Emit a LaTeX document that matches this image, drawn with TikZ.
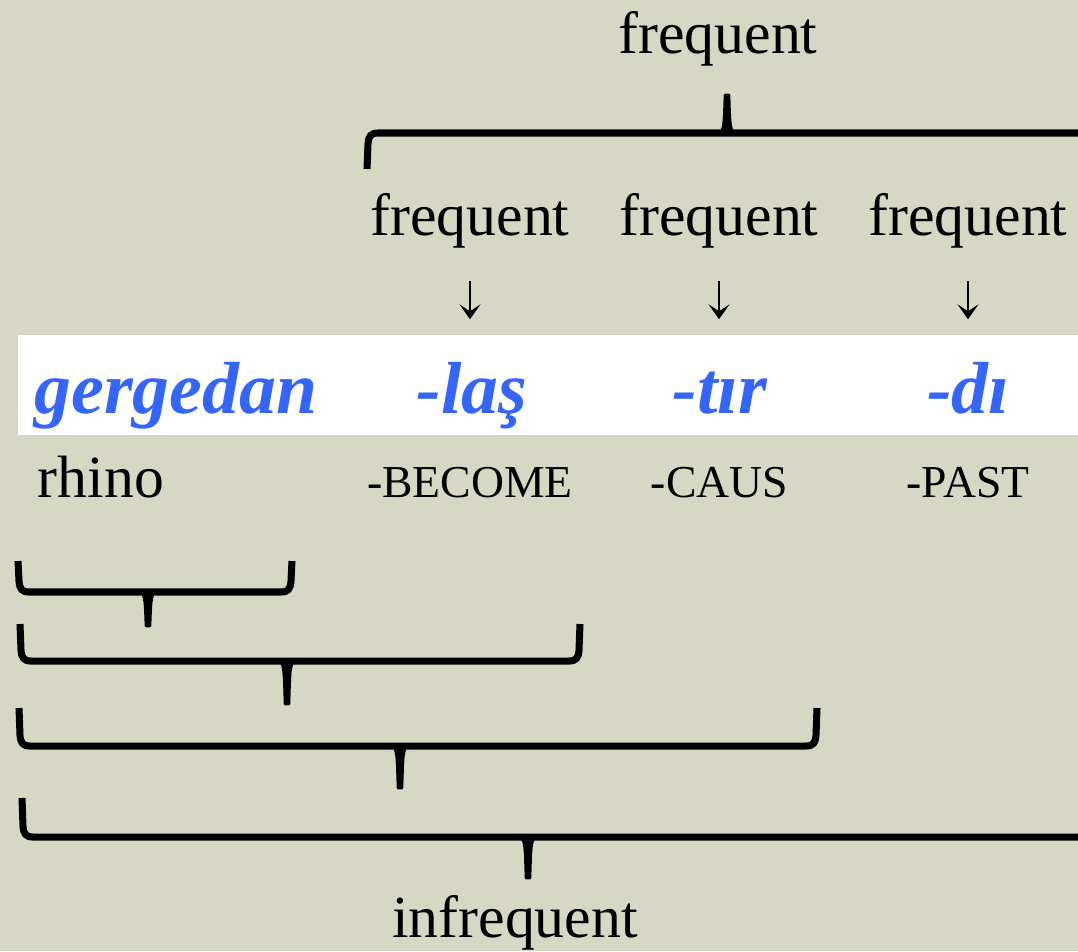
\documentclass[tikz,border=0pt]{standalone}
\usepackage{fontspec}
\setmainfont{Liberation Serif}
\usetikzlibrary{arrows.meta}

\definecolor{bggreen}{RGB}{214,216,196}
\definecolor{wordblue}{RGB}{52,101,255}

\tikzset{
  txt/.style={font=\fontsize{34}{40}\selectfont, inner sep=0pt, anchor=base, text depth=8.5pt},
  morph/.style={font=\fontsize{42}{48}\selectfont\bfseries\itshape, text=wordblue,
    inner sep=0pt, anchor=base, text height=31pt, text depth=10pt},
  gram/.style={font=\fontsize{26}{30}\selectfont, inner sep=0pt, anchor=base},
  darr/.style={-{Stealth[length=8.5pt,width=12pt,inset=4pt]}, line width=1.1pt,
    shorten <=0.62cm, shorten >=0.78cm},
  bracestroke/.style={line width=4pt},
  bracetip/.style={line width=1.5pt, line join=round}
}

% brace: left x, right x, tip x, arm end y, bar y, tip end y
\newcommand\glossbrace[6]{%
  \pgfmathsetmacro\bs{sign(#6-#5)}
  \draw[bracestroke] (#1,#4) -- ({#1+1},{#5-11*\bs})
    .. controls ({#1+1.5},{#5-3*\bs}) and ({#1+4},{#5}) .. ({#1+11},{#5})
    -- ({#2-11},{#5})
    .. controls ({#2-4},{#5}) and ({#2-1.5},{#5-3*\bs}) .. ({#2-1},{#5-11*\bs})
    -- (#2,#4);
  \filldraw[bracetip] ({#3-10},{#5})
    .. controls ({#3-3},{#5}) and ({#3-3},{#5+6*\bs}) .. ({#3-2},{#6})
    -- ({#3+2},{#6})
    .. controls ({#3+3},{#5+6*\bs}) and ({#3+3},{#5}) .. ({#3+10},{#5}) -- cycle;
}

\begin{document}
\begin{tikzpicture}[x=0.02cm,y=-0.02cm]
  \useasboundingbox (0,0) rectangle (1078,951);
  \clip (0,0) rectangle (1078,951);
  \fill[bggreen] (0,0) rectangle (1078,951);

  % white band behind the word
  \fill[white] (18,335) rectangle (1078,435);

  % frequency labels
  \node[txt] (freqall) at (718,53) {frequent};
  \node[txt] (f1) at (470,235) {frequent};
  \node[txt] (f2) at (719,235) {frequent};
  \node[txt] (f3) at (968,235) {frequent};

  % morphemes
  \node[morph] (m0) at (176,413) {gergedan};
  \node[morph] (m1) at (472,413) {-laş};
  \node[morph] (m2) at (720,413) {-tır};
  \node[morph] (m3) at (968,413) {-dı};

  % glosses
  \node[txt] (g0) at (101,497) {rhino};
  \node[gram] (g1) at (470,497) {-BECOME};
  \node[gram] (g2) at (719.5,497) {-CAUS};
  \node[gram] (g3) at (968,497) {-PAST};

  % arrows down to the suffixes
  \draw[darr] (f1) -- (f1 |- m1.north);
  \draw[darr] (f2) -- (f2 |- m2.north);
  \draw[darr] (f3) -- (f3 |- m3.north);

  % brace over the suffixes
  \glossbrace{367}{1120}{727}{169}{133}{95}

  % nested braces below
  \foreach \xa/\xb/\xm/\yt/\yb/\ye in {18/292/148/561/592/626,
      20/580/287/624/661/704, 19/817/400/708/746/788, 22/1120/528/798/837/878}
    {\glossbrace{\xa}{\xb}{\xm}{\yt}{\yb}{\ye}}

  \node[txt] (infreq) at (515,937) {infrequent};
\end{tikzpicture}
\end{document}
